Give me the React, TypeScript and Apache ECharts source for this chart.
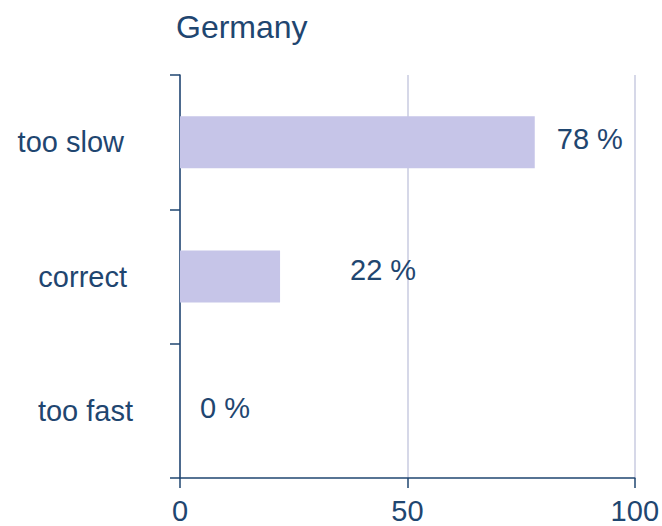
import React, { useEffect, useRef } from "react";
import * as echarts from "echarts";

const TITLE = "Germany";
const categories = ["too slow", "correct", "too fast"];
const shares = [78, 22, 0];
const xTicks = [0, 50, 100];

const NAVY = "#1f4670";
const BAR = "#c6c5e8";
const GRID = "#c8cbe0";
const FONT = "'Liberation Sans', Arial, sans-serif";

export default function App() {
  const ref = useRef<HTMLDivElement>(null);
  useEffect(() => {
    if (!ref.current) return;
    const chart = echarts.init(ref.current, undefined, { renderer: "svg" });
    const labelDistance = [22, 70, 20];
    const labelDy = [-3, -7, -3];
    const catPad = [9, 6, 0];
    chart.setOption({
      animation: false,
      textStyle: { fontFamily: FONT },
      title: {
        text: TITLE,
        left: 171,
        top: 6,
        textStyle: { fontSize: 32, fontWeight: "normal", color: NAVY, fontFamily: FONT },
      },
      grid: { left: 180, right: 27, top: 75, bottom: 48, containLabel: false },
      xAxis: {
        type: "value",
        min: xTicks[0],
        max: xTicks[xTicks.length - 1],
        interval: xTicks[1] - xTicks[0],
        axisLine: { show: true, lineStyle: { color: NAVY, width: 1.5 } },
        axisTick: { show: true, length: 10, lineStyle: { color: NAVY, width: 1.5 } },
        axisLabel: { fontSize: 29, color: NAVY, margin: 18, fontFamily: FONT },
        splitLine: {
          show: true,
          lineStyle: { color: GRID, width: 1.5 },
        },
      },
      yAxis: {
        type: "category",
        data: categories.map((c, i) => ({
          value: c,
          textStyle: { padding: [0, catPad[i], 0, 0] },
        })),
        inverse: true,
        axisLine: { show: true, lineStyle: { color: NAVY, width: 1.5 } },
        axisTick: { show: true, length: 10, lineStyle: { color: NAVY, width: 1.5 } },
        axisLabel: { fontSize: 29, color: NAVY, margin: 47, fontFamily: FONT },
        splitLine: { show: false },
      },
      series: [
        {
          type: "bar",
          barWidth: 52,
          itemStyle: { color: BAR },
          data: shares.map((v, i) => ({
            value: v,
            label: { distance: labelDistance[i], offset: [0, labelDy[i]] },
          })),
          label: {
            show: true,
            position: "right",
            formatter: "{c} %",
            fontSize: 29,
            color: NAVY,
            fontFamily: FONT,
          },
        },
      ],
    });
    return () => chart.dispose();
  }, []);
  return (
    <div
      ref={ref}
      style={{ position: "fixed", left: 0, top: 0, width: 662, height: 526, background: "#fff" }}
    />
  );
}
